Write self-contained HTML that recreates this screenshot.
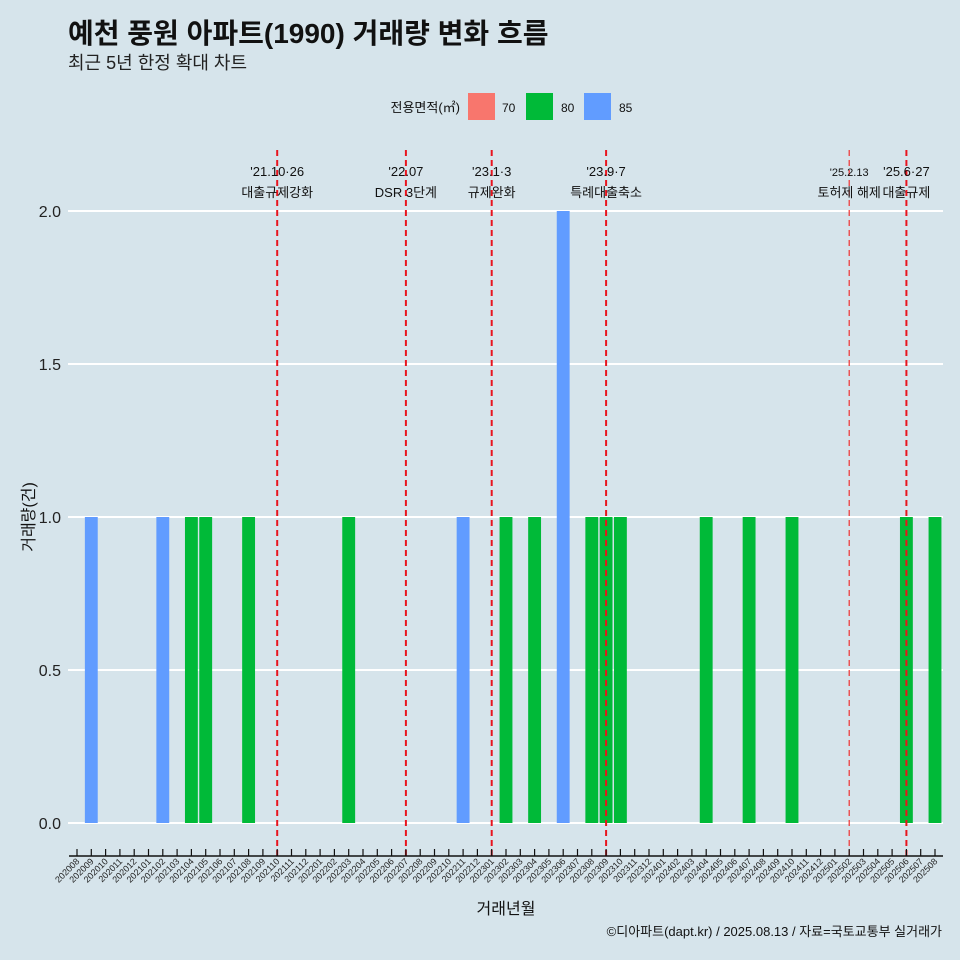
<!DOCTYPE html>
<html><head><meta charset="utf-8"><style>
html,body{margin:0;padding:0;background:#d6e4eb;}
svg{display:block;font-family:"Liberation Sans","Noto Sans CJK KR",sans-serif;}
</style></head><body>
<svg id="chart" width="960" height="960" viewBox="0 0 960 960">
<rect width="960" height="960" fill="#d6e4eb"/>
<text x="68" y="43" font-size="28" font-weight="bold" fill="#111">예천 풍원 아파트(1990) 거래량 변화 흐름</text>
<text x="68" y="69" font-size="18" fill="#222">최근 5년 한정 확대 차트</text>
<g>
<text x="460" y="112" font-size="13" text-anchor="end" fill="#111">전용면적(㎡)</text>
<rect x="468" y="93" width="27" height="27" fill="#f8766d"/>
<text x="502" y="112" font-size="12" fill="#111">70</text>
<rect x="526" y="93" width="27" height="27" fill="#00ba38"/>
<text x="561" y="112" font-size="12" fill="#111">80</text>
<rect x="584" y="93" width="27" height="27" fill="#619cff"/>
<text x="619" y="112" font-size="12" fill="#111">85</text>
</g>
<g id="grid"></g><g id="bars"></g><g id="vlines"></g><g id="xaxis"></g><g id="yaxis"></g>
<text x="506" y="914" font-size="16" text-anchor="middle" fill="#111">거래년월</text>
<text transform="translate(34,517) rotate(-90)" font-size="16" text-anchor="middle" fill="#111">거래량(건)</text>
<text x="942" y="936" font-size="13" text-anchor="end" fill="#111">©디아파트(dapt.kr) / 2025.08.13 / 자료=국토교통부 실거래가</text>
</svg>
<script>
const categories = [];
for (let y = 2020; y <= 2025; y++) for (let m = 1; m <= 12; m++) {
  const c = y * 100 + m;
  if (c >= 202008 && c <= 202508) categories.push(String(c));
}
const barMonths = ["202009","202102","202104","202105","202108","202203","202211","202302","202304","202306","202308","202309","202310","202404","202407","202410","202506","202508"];
const barValues = [1,1,1,1,1,1,1,1,1,2,1,1,1,1,1,1,1,1];
const barAreas = ["85","85","80","80","80","80","85","80","80","85","80","80","80","80","80","80","80","80"];
const yTicks = [0, 0.5, 1, 1.5, 2];
const yTickLabels = ["0.0","0.5","1.0","1.5","2.0"];
const eventMonths = ["202110","202207","202301","202309","202502","202506"];
const eventDates = ["'21.10·26","'22.07","'23.1·3","'23.9·7","'25.2.13","'25.6·27"];
const eventLabels = ["대출규제강화","DSR 3단계","규제완화","특례대출축소","토허제 해제","대출규제"];

const colors = {"70":"#f8766d","80":"#00ba38","85":"#619cff"};
const NS = "http://www.w3.org/2000/svg";
const x0 = 77, step = (935 - 77) / 60;
const xScale = c => x0 + categories.indexOf(c) * step;
const yScale = v => 823 - v * 306;
function mk(tag, attrs, parent) {
  const e = document.createElementNS(NS, tag);
  for (const k in attrs) e.setAttribute(k, attrs[k]);
  parent.appendChild(e); return e;
}
const grid = document.getElementById("grid"), yaxis = document.getElementById("yaxis");
yTicks.forEach((t, i) => {
  const l = mk("line", {x1: 68, x2: 943, y1: yScale(t), y2: yScale(t), stroke: "#fff", "stroke-width": 2}, grid);
  
  
  const tx = mk("text", {x: 61, y: yScale(t) + 6, "font-size": 16, "text-anchor": "end", fill: "#222"}, yaxis);
  tx.textContent = yTickLabels[i];
  
  
});
const bars = document.getElementById("bars");
const bw = step * 0.9;
barMonths.forEach((m, i) => {
  const r = mk("rect", {x: xScale(m) - bw / 2, y: yScale(barValues[i]), width: bw, height: yScale(0) - yScale(barValues[i]), fill: colors[barAreas[i]]}, bars);
  
  
});
const vl = document.getElementById("vlines");
eventMonths.forEach((m, i) => {
  const x = xScale(m);
  const thin = m === "202502";
  const l = mk("line", {x1: x, x2: x, y1: 150, y2: 856, stroke: thin ? "#f03030" : "#e8141e", "stroke-width": thin ? 1.2 : 2, "stroke-dasharray": "6,4"}, vl);
  
  
  const t1 = mk("text", {x: x, y: 176, "font-size": thin ? 11 : 13, "text-anchor": "middle", fill: "#111"}, vl);
  t1.textContent = eventDates[i];
  
  
  const t2 = mk("text", {x: x, y: 197, "font-size": 13, "text-anchor": "middle", fill: "#111"}, vl);
  t2.textContent = eventLabels[i];
  
  
});
const xa = document.getElementById("xaxis");
const ax = mk("line", {x1: 69, x2: 943, y1: 856, y2: 856, stroke: "#111", "stroke-width": 1.5}, xa);


categories.forEach(c => {
  const x = xScale(c);
  const t = mk("line", {x1: x, x2: x, y1: 849, y2: 856, stroke: "#111", "stroke-width": 1.2}, xa);
  
  
  const tx = mk("text", {x: x + 3, y: 862, "font-size": 9, "text-anchor": "end", fill: "#222", transform: `rotate(-45 ${x + 3} 862)`}, xa);
  tx.textContent = c;
  
  
});
</script>
</body></html>
